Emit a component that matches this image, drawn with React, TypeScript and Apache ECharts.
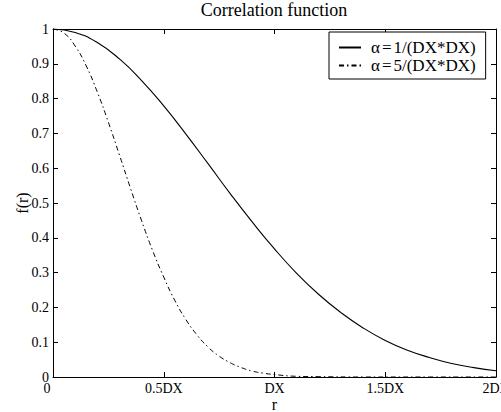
import React, { useEffect, useRef } from "react";
import * as echarts from "echarts";

const TITLE = "Correlation function";
const X_NAME = "r";
const Y_NAME = "f(r)";
const SERIES_NAMES = ["α=1/(DX*DX)", "α=5/(DX*DX)"];
const X_TICK_VALUES = [0, 0.5, 1, 1.5, 2];
const X_TICK_LABELS = ["0", "0.5DX", "DX", "1.5DX", "2DX"];

// r in units of DX
const R1 = [0, 0.1, 0.2, 0.3, 0.4, 0.5, 0.6, 0.7, 0.8, 0.9, 1.0, 1.1, 1.2, 1.3, 1.4, 1.5, 1.6, 1.7, 1.8, 1.9, 2.0];
const F1 = [1, 0.99, 0.961, 0.914, 0.852, 0.779, 0.698, 0.613, 0.527, 0.445, 0.368, 0.298, 0.237, 0.185, 0.141, 0.105, 0.077, 0.056, 0.039, 0.027, 0.018];

const R2 = [0, 0.05, 0.1, 0.15, 0.2, 0.25, 0.3, 0.35, 0.4, 0.45, 0.5, 0.55, 0.6, 0.65, 0.7, 0.75, 0.8, 0.85, 0.9, 0.95, 1.0, 1.1, 1.2, 1.4, 1.7, 2.0];
const F2 = [1, 0.988, 0.951, 0.894, 0.819, 0.732, 0.638, 0.542, 0.449, 0.363, 0.287, 0.22, 0.165, 0.121, 0.086, 0.06, 0.041, 0.027, 0.017, 0.011, 0.007, 0.002, 0.001, 0, 0, 0];

const FONT = "'Liberation Serif', 'Times New Roman', serif";

export default function App() {
  const ref = useRef<HTMLDivElement>(null);
  useEffect(() => {
    if (!ref.current) return;
    const chart = echarts.init(ref.current, null, { renderer: "svg" });
    const d1 = R1.map((r, i) => [r, F1[i]]);
    const d2 = R2.map((r, i) => [r, F2[i]]);
    const tickCommon = { show: true, inside: true, length: 5, lineStyle: { color: "#000", width: 1 } };
    const lineCommon = { show: true, onZero: false, lineStyle: { color: "#000", width: 1 } };
    const legendRich = {
      a: { fontFamily: FONT, fontSize: 17, color: "#000", padding: [0, 1, 0, 5] },
      e: { fontFamily: FONT, fontSize: 17, color: "#000", padding: [0, 2, 0, 1] },
      t: { fontFamily: FONT, fontSize: 17, color: "#000" },
    };
    chart.setOption({
      animation: false,
      backgroundColor: "#fff",
      textStyle: { fontFamily: FONT },
      title: {
        text: TITLE,
        left: 274,
        textAlign: "center",
        top: 1,
        padding: 0,
        textStyle: { fontFamily: FONT, fontSize: 18, fontWeight: "normal", color: "#000" },
      },
      legend: {
        data: SERIES_NAMES,
        orient: "vertical",
        left: 329,
        top: 32,
        padding: [7, 10, 5, 9],
        itemGap: 1,
        itemWidth: 22,
        itemHeight: 14,
        borderColor: "#000",
        borderWidth: 1,
        borderRadius: 0,
        backgroundColor: "#fff",
        itemStyle: { opacity: 0 },
        formatter: (name: string) => {
          const i = name.indexOf("=");
          return "{a|" + name.slice(0, i) + "}{e|=}{t|" + name.slice(i + 1) + "}";
        },
        textStyle: { fontFamily: FONT, fontSize: 17, color: "#000", rich: legendRich },
      },
      grid: { left: 53, right: 5, top: 29, bottom: 35, containLabel: false, outerBoundsMode: "none" },
      xAxis: [
        {
          type: "value",
          min: 0,
          max: 2,
          interval: 0.5,
          name: X_NAME,
          nameLocation: "middle",
          nameGap: 19,
          nameMoveOverlap: false,
          nameTextStyle: { fontFamily: FONT, fontSize: 16, color: "#000" },
          axisLine: lineCommon,
          axisTick: tickCommon,
          splitLine: { show: false },
          axisLabel: {
            fontFamily: FONT,
            fontSize: 14,
            color: "#000",
            margin: 4,
            showMinLabel: true,
            showMaxLabel: true,
            hideOverlap: false,
            formatter: (v: number) => {
              const i = X_TICK_VALUES.findIndex((t) => Math.abs(t - v) < 1e-9);
              const s = i >= 0 ? X_TICK_LABELS[i] : "";
              return i === 0 ? "{z|" + s + "}" : s;
            },
            rich: { z: { fontFamily: FONT, fontSize: 14, color: "#000", padding: [0, 12, 0, 0] } },
          },
        },
        {
          type: "value",
          position: "top",
          min: 0,
          max: 2,
          interval: 0.5,
          axisLine: lineCommon,
          axisTick: tickCommon,
          axisLabel: { show: false },
          splitLine: { show: false },
        },
      ],
      yAxis: [
        {
          type: "value",
          min: 0,
          max: 1,
          interval: 0.1,
          name: Y_NAME,
          nameLocation: "middle",
          nameRotate: 90,
          nameGap: 23,
          nameMoveOverlap: false,
          nameTextStyle: { fontFamily: FONT, fontSize: 16, color: "#000" },
          axisLine: lineCommon,
          axisTick: tickCommon,
          splitLine: { show: false },
          axisLabel: {
            fontFamily: FONT,
            fontSize: 14,
            color: "#000",
            margin: 4,
            showMinLabel: true,
            showMaxLabel: true,
            formatter: (v: number) => String(Math.round(v * 10) / 10),
          },
        },
        {
          type: "value",
          position: "right",
          min: 0,
          max: 1,
          interval: 0.1,
          axisLine: lineCommon,
          axisTick: tickCommon,
          axisLabel: { show: false },
          splitLine: { show: false },
        },
      ],
      series: [
        {
          name: SERIES_NAMES[0],
          type: "line",
          data: d1,
          smooth: true,
          showSymbol: false,
          symbol: "none",
          lineStyle: { color: "#000", width: 1.1, type: "solid" },
          itemStyle: { color: "#000" },
        },
        {
          name: SERIES_NAMES[1],
          type: "line",
          data: d2,
          smooth: true,
          showSymbol: false,
          symbol: "none",
          lineStyle: { color: "#000", width: 1, type: [5, 3, 1.5, 3] },
          itemStyle: { color: "#000" },
        },
      ],
    });
    return () => chart.dispose();
  }, []);
  return (
    <div
      ref={ref}
      style={{ position: "fixed", left: 0, top: 0, width: 501, height: 412, background: "#fff" }}
    />
  );
}
